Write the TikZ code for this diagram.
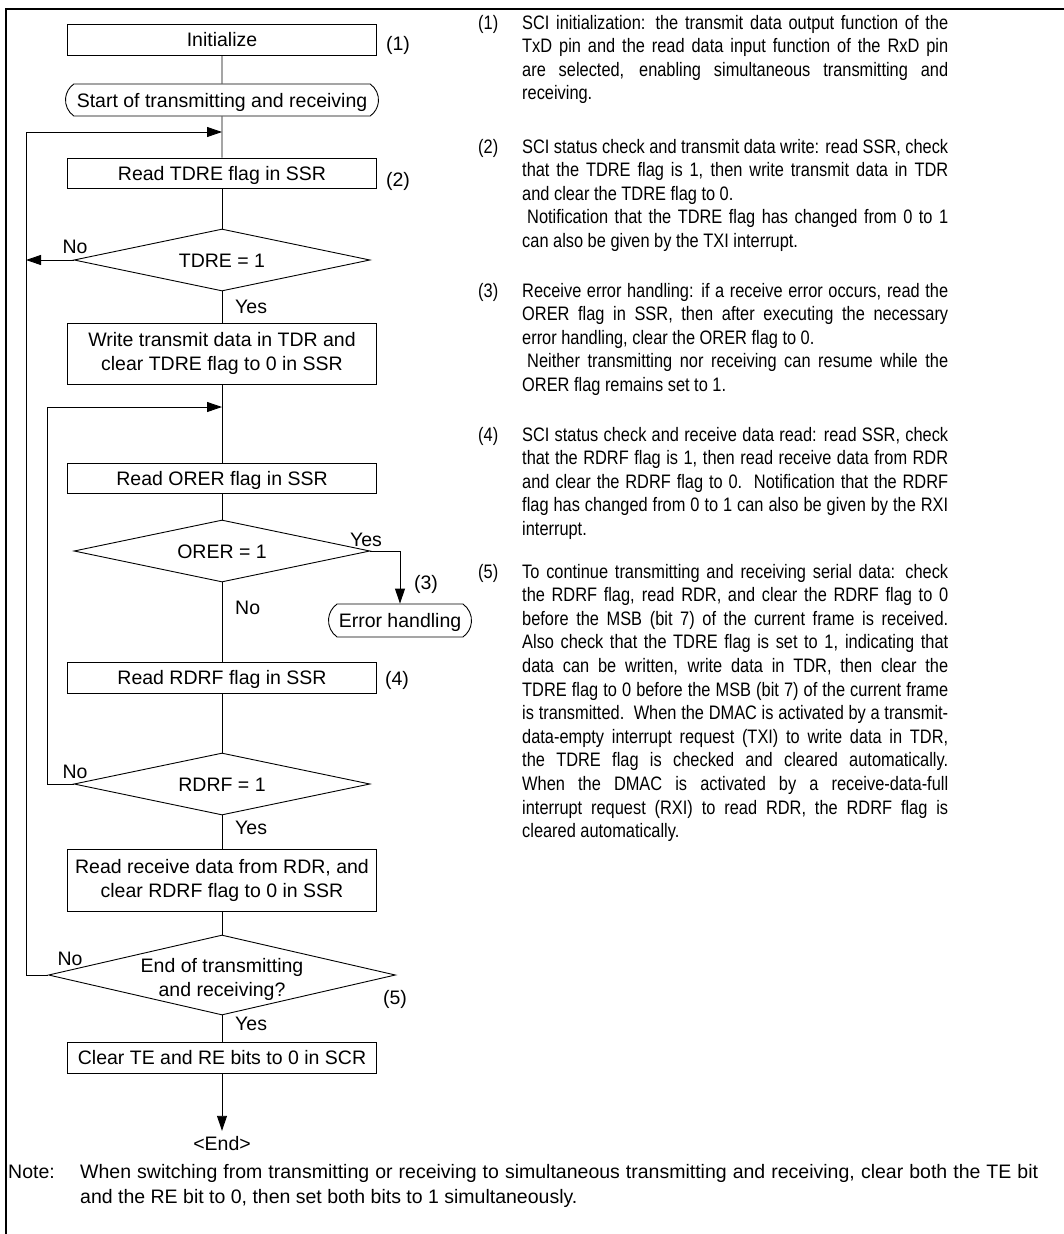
\documentclass[tikz,border=0pt]{standalone}
\usepackage{fontspec}
\setmainfont{Liberation Sans}
\newfontfamily\narrowfam{Liberation Sans}[FakeStretch=0.84]
\usetikzlibrary{arrows.meta,shapes.geometric,shapes.misc}
\newcommand\fcf{\fontsize{19.5pt}{24pt}\selectfont}
\newcommand\rcf{\narrowfam\fontsize{19.5pt}{23.6pt}\selectfont}
\newlength\colw \setlength\colw{426pt}
\newcommand\jl[1]{\hbox to\colw{\spaceskip=.25em plus .8em minus .06em\relax #1}}
\newcommand\lastln[1]{\hbox{#1}}
\newcommand\rpar[1]{\vtop{\baselineskip=23.6pt\lineskiplimit=-20pt #1}}
\tikzset{
 fcline/.style={line width=0.9pt},
 arr/.style={fcline,-{Triangle[length=15pt,width=10pt]}},
 pbox/.style={draw, fcline, rectangle, inner sep=0pt, font=\fcf, text height=14pt, text depth=0pt, minimum width=309pt, minimum height=31pt},
 pboxtwo/.style={draw, fcline, rectangle, inner sep=0pt, font=\fcf, align=center, minimum width=309pt, minimum height=61pt},
 term/.style={draw, fcline, rounded rectangle, rounded rectangle arc length=110, inner sep=0pt, font=\fcf, text height=14pt, text depth=0pt, minimum height=32pt},
 dia/.style={draw, fcline, diamond, inner sep=0pt, minimum width=296pt, minimum height=62pt},
 lbl/.style={font=\fcf, inner sep=0pt, text height=14pt, text depth=0pt},
 rtext/.style={font=\rcf, inner sep=0pt},
}
\begin{document}
\begin{tikzpicture}[x=1pt,y=-1pt, line join=miter]
\useasboundingbox (0,0) rectangle (1064,1234);
% frame
\draw[line width=2.6pt] (6,1234) -- (6,9) -- (1064,9);

% flowchart nodes
\node[pbox] (init) at (222,39.5) {Initialize};
\node[term, minimum width=313pt] (start) at (222,100) {Start of transmitting and receiving};
\node[pbox, minimum height=30pt] (rt) at (222,173) {Read TDRE flag in SSR};
\node[dia] (d1) at (222,260) {};
\node[lbl] (d1t) at (d1.center) {TDRE = 1};
\node[pboxtwo] (wr) at (222,353.5) {Write transmit data in TDR and\\clear TDRE flag to 0 in SSR};
\node[pbox, minimum height=30pt] (ro) at (222,478) {Read ORER flag in SSR};
\node[dia] (d2) at (222,551) {};
\node[lbl] (d2t) at (d2.center) {ORER = 1};
\node[term, minimum width=143pt, minimum height=33pt] (err) at (400,620.5) {Error handling};
\node[pbox] (rr) at (222,677.5) {Read RDRF flag in SSR};
\node[dia] (d3) at (222,784) {};
\node[lbl] (d3t) at (d3.center) {RDRF = 1};
\node[pboxtwo, minimum height=62pt] (rd) at (222,880) {Read receive data from RDR, and\\clear RDRF flag to 0 in SSR};
\node[dia, minimum width=347pt, minimum height=80pt] (d4) at (222,975) {};
\node[font=\fcf, inner sep=0pt, align=center] (d4t) at (222,979) {End of transmitting\\and receiving?};
\node[pbox] (clr) at (222,1057.5) {Clear TE and RE bits to 0 in SCR};
\node[lbl, inner ysep=5pt] (endn) at (222,1143) {<End>};

% step labels
\node[lbl] (s1) at (398,43) {(1)};
\node[lbl] (s2) at (398,179) {(2)};
\node[lbl] (s3) at (426,582) {(3)};
\node[lbl] (s4) at (397,678) {(4)};
\node[lbl] (s5) at (395,997) {(5)};

% yes/no labels
\node[lbl] (n1) at (75,246) {No};
\node[lbl, anchor=west] (y1) at (235,306) {Yes};
\node[lbl] (y2) at (366,539) {Yes};
\node[lbl, anchor=west] (n2) at (235,607) {No};
\node[lbl] (n3) at (75,771) {No};
\node[lbl, anchor=west] (y3) at (235,827) {Yes};
\node[lbl] (n4) at (70,958) {No};
\node[lbl, anchor=west] (y4) at (235,1023) {Yes};

% loop coordinates
\coordinate (j1) at (222,132);
\coordinate (lp1) at (26,132);
\coordinate (j2) at (222,407);
\coordinate (lp2) at (47,407);

% connectors
\draw[fcline] (init) -- (start);
\draw[fcline] (start) -- (rt);
\draw[fcline] (rt) -- (d1);
\draw[fcline] (d1) -- (wr);
\draw[fcline] (wr) -- (ro);
\draw[fcline] (ro) -- (d2);
\draw[fcline] (d2) -- (rr);
\draw[fcline] (rr) -- (d3);
\draw[fcline] (d3) -- (rd);
\draw[fcline] (rd) -- (d4);
\draw[fcline] (d4) -- (clr);
\draw[arr] (clr) -- (endn);
\draw[arr] (d1.west) -- (d1.west -| lp1);
\draw[arr] (d2.east) -| (err.north);
\draw[arr] (d3.west) -| (lp2) -- (j2);
\draw[arr] (d4.west) -| (lp1) -- (j1);

% right-hand notes
\node[rtext, anchor=base west] (k1) at (478,29) {(1)};
\node[rtext, anchor=base west] (p1) at (522,29) {\rpar{%
\jl{SCI initialization: the transmit data output function of the}
\jl{TxD pin and the read data input function of the RxD pin}
\jl{are selected, enabling simultaneous transmitting and}
\lastln{receiving.}}};

\node[rtext, anchor=base west] (k2) at (478,153) {(2)};
\node[rtext, anchor=base west] (p2) at (522,153) {\rpar{%
\jl{SCI status check and transmit data write: read SSR, check}
\jl{that the TDRE flag is 1, then write transmit data in TDR}
\lastln{and clear the TDRE flag to 0.}
\jl{\hskip5pt Notification that the TDRE flag has changed from 0 to 1}
\lastln{can also be given by the TXI interrupt.}}};

\node[rtext, anchor=base west] (k3) at (478,297) {(3)};
\node[rtext, anchor=base west] (p3) at (522,297) {\rpar{%
\jl{Receive error handling: if a receive error occurs, read the}
\jl{ORER flag in SSR, then after executing the necessary}
\lastln{error handling, clear the ORER flag to 0.}
\jl{\hskip5pt Neither transmitting nor receiving can resume while the}
\lastln{ORER flag remains set to 1.}}};

\node[rtext, anchor=base west] (k4) at (478,441) {(4)};
\node[rtext, anchor=base west] (p4) at (522,441) {\rpar{%
\jl{SCI status check and receive data read: read SSR, check}
\jl{that the RDRF flag is 1, then read receive data from RDR}
\jl{and clear the RDRF flag to 0.\ \ Notification that the RDRF}
\jl{flag has changed from 0 to 1 can also be given by the RXI}
\lastln{interrupt.}}};

\node[rtext, anchor=base west] (k5) at (478,578) {(5)};
\node[rtext, anchor=base west] (p5) at (522,578) {\rpar{%
\jl{To continue transmitting and receiving serial data: check}
\jl{the RDRF flag, read RDR, and clear the RDRF flag to 0}
\jl{before the MSB (bit 7) of the current frame is received.}
\jl{Also check that the TDRE flag is set to 1, indicating that}
\jl{data can be written, write data in TDR, then clear the}
\jl{TDRE flag to 0 before the MSB (bit 7) of the current frame}
\jl{is transmitted.\ \ When the DMAC is activated by a transmit-}
\jl{data-empty interrupt request (TXI) to write data in TDR,}
\jl{the TDRE flag is checked and cleared automatically.}
\jl{When the DMAC is activated by a receive-data-full}
\jl{interrupt request (RXI) to read RDR, the RDRF flag is}
\lastln{cleared automatically.}}};

% note
\node[font=\fcf, inner sep=0pt, anchor=base west] (nt) at (8,1178) {Note:};
\node[font=\fcf, inner sep=0pt, anchor=base west] (ntx) at (80,1178) {\vtop{\baselineskip=25pt\lineskiplimit=-20pt
\hbox to 958pt{\spaceskip=.278em plus .8em minus .05em\relax When switching from transmitting or receiving to simultaneous transmitting and receiving, clear both the TE bit}
\hbox{and the RE bit to 0, then set both bits to 1 simultaneously.}}};
\end{tikzpicture}
\end{document}
